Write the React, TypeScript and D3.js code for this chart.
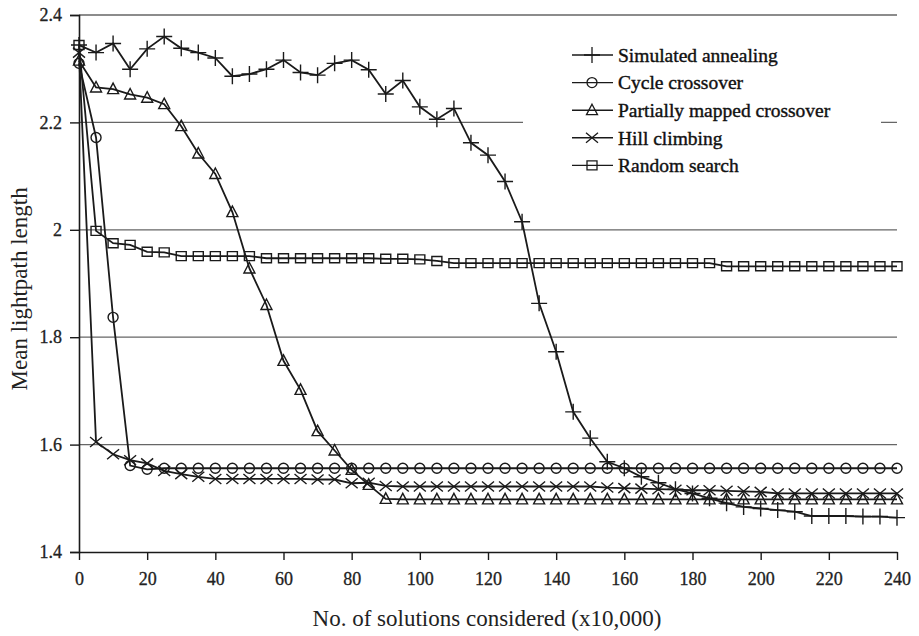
import React, { useEffect, useRef } from "react";
import * as d3 from "d3";

const steps = [
  0, 5, 10, 15, 20, 25, 30, 35, 40, 45, 50, 55, 60, 65, 70, 75, 80, 85, 90, 95,
  100, 105, 110, 115, 120, 125, 130, 135, 140, 145, 150, 155, 160, 165, 170,
  175, 180, 185, 190, 195, 200, 205, 210, 215, 220, 225, 230, 235, 240,
];

const simulatedAnnealing = [
  2.344, 2.33, 2.347, 2.299, 2.337, 2.36, 2.338, 2.33, 2.32, 2.286, 2.29, 2.299,
  2.316, 2.293, 2.288, 2.31, 2.316, 2.298, 2.253, 2.278, 2.229, 2.206, 2.226,
  2.162, 2.139, 2.09, 2.015, 1.863, 1.773, 1.661, 1.612, 1.568, 1.556, 1.54,
  1.529, 1.517, 1.509, 1.5, 1.491, 1.484, 1.481, 1.478, 1.475, 1.467, 1.467,
  1.467, 1.466, 1.466, 1.464,
];

const cycleCrossover = [
  2.31, 2.172, 1.837, 1.561, 1.554, 1.556, 1.556, 1.556, 1.556, 1.556, 1.556,
  1.556, 1.556, 1.556, 1.556, 1.556, 1.556, 1.556, 1.556, 1.556, 1.556, 1.556,
  1.556, 1.556, 1.556, 1.556, 1.556, 1.556, 1.556, 1.556, 1.556, 1.556, 1.556,
  1.556, 1.556, 1.556, 1.556, 1.556, 1.556, 1.556, 1.556, 1.556, 1.556, 1.556,
  1.556, 1.556, 1.556, 1.556, 1.556,
];

const partiallyMapped = [
  2.315, 2.265, 2.262, 2.252, 2.246, 2.234, 2.193, 2.142, 2.104, 2.033, 1.928,
  1.86, 1.756, 1.702, 1.625, 1.589, 1.553, 1.525, 1.499, 1.498, 1.498, 1.498,
  1.498, 1.498, 1.498, 1.498, 1.498, 1.498, 1.498, 1.498, 1.498, 1.498, 1.498,
  1.498, 1.498, 1.498, 1.498, 1.498, 1.498, 1.498, 1.498, 1.498, 1.498, 1.498,
  1.498, 1.498, 1.498, 1.498, 1.498,
];

const hillClimbing = [
  2.33, 1.605, 1.582, 1.571, 1.565, 1.551, 1.545, 1.54, 1.536, 1.536, 1.536,
  1.536, 1.536, 1.536, 1.535, 1.535, 1.528, 1.529, 1.523, 1.522, 1.522, 1.522,
  1.522, 1.522, 1.522, 1.522, 1.522, 1.522, 1.522, 1.522, 1.522, 1.52, 1.519,
  1.518, 1.517, 1.516, 1.515, 1.515, 1.514, 1.513, 1.512, 1.509, 1.509, 1.509,
  1.509, 1.509, 1.509, 1.509, 1.509,
];

const randomSearch = [
  2.344, 1.998, 1.975, 1.972, 1.959, 1.958, 1.951, 1.951, 1.951, 1.951, 1.951,
  1.947, 1.947, 1.947, 1.947, 1.947, 1.947, 1.947, 1.946, 1.946, 1.945, 1.942,
  1.938, 1.938, 1.938, 1.938, 1.938, 1.938, 1.938, 1.938, 1.938, 1.938, 1.938,
  1.938, 1.938, 1.938, 1.938, 1.938, 1.932, 1.932, 1.932, 1.932, 1.932, 1.932,
  1.932, 1.932, 1.932, 1.932, 1.932,
];

const seriesNames = [
  "Simulated annealing",
  "Cycle crossover",
  "Partially mapped crossover",
  "Hill climbing",
  "Random search",
];
const seriesMarkers = ["plus", "circle", "triangle", "cross", "square"];
const seriesValues = [
  simulatedAnnealing,
  cycleCrossover,
  partiallyMapped,
  hillClimbing,
  randomSearch,
];

const xTicks = [0, 20, 40, 60, 80, 100, 120, 140, 160, 180, 200, 220, 240];
const yTicks = [1.4, 1.6, 1.8, 2, 2.2, 2.4];

const markerPath = (type: string) => {
  switch (type) {
    case "plus":
      return "M-8,0H8M0,-8V8";
    case "cross":
      return "M-6,-5L6,5M-6,5L6,-5";
    case "circle":
      return "M5,0A5,5 0 1,1 -5,0A5,5 0 1,1 5,0";
    case "triangle":
      return "M0,-6L5.5,4.5H-5.5Z";
    default:
      return "M-5,-4.5H5V4.5H-5Z";
  }
};

const App = () => {
  const ref = useRef<SVGSVGElement>(null);

  useEffect(() => {
    const width = 919;
    const height = 636;
    const margin = { top: 15, right: 22, bottom: 84, left: 79 };
    const font = "'Liberation Serif', 'Times New Roman', serif";
    const ink = "#1a1a1a";

    const svg = d3.select(ref.current);
    svg.selectAll("*").remove();

    const x = d3
      .scaleLinear()
      .domain([0, 240])
      .range([margin.left, width - margin.right]);
    const y = d3
      .scaleLinear()
      .domain([1.4, 2.4])
      .range([height - margin.bottom, margin.top]);

    // gridlines
    svg
      .append("g")
      .selectAll("line")
      .data(yTicks.slice(1))
      .join("line")
      .attr("x1", x(0))
      .attr("x2", x(240))
      .attr("y1", d => y(d))
      .attr("y2", d => y(d))
      .attr("stroke", "#666")
      .attr("stroke-width", 1.3);

    // legend background hides part of the grid
    const legendX = 572;
    const legendY = 55;
    const legendGap = 27.6;
    svg
      .append("rect")
      .attr("x", 523)
      .attr("y", 35)
      .attr("width", 358)
      .attr("height", 150)
      .attr("fill", "white");

    // axes
    const yAxis = svg
      .append("g")
      .attr("transform", `translate(${margin.left},0)`)
      .call(d3.axisLeft(y).tickValues(yTicks).tickSize(9).tickFormat(d3.format("")));
    const xAxis = svg
      .append("g")
      .attr("transform", `translate(0,${height - margin.bottom})`)
      .call(d3.axisBottom(x).tickValues(xTicks).tickSize(8).tickSizeOuter(0));

    [xAxis, yAxis].forEach(g => {
      g.select(".domain").attr("stroke", ink).attr("stroke-width", 1.6);
      g.selectAll(".tick line").attr("stroke", ink).attr("stroke-width", 1.4);
      g.selectAll("text")
        .attr("font-family", font)
        .attr("font-size", 18)
        .attr("fill", "#222")
        .attr("stroke", "#222")
        .attr("stroke-width", 0.3);
    });
    yAxis.selectAll("text").attr("x", -17);
    xAxis.selectAll("text").attr("y", 20);

    // series
    const line = d3
      .line<number>()
      .x((d, i) => x(steps[i]))
      .y(d => y(d));

    seriesValues.forEach((values, s) => {
      const g = svg.append("g");
      g.append("path")
        .attr("d", line(values))
        .attr("fill", "none")
        .attr("stroke", ink)
        .attr("stroke-width", 1.8);
      g.selectAll("path.m")
        .data(values)
        .join("path")
        .attr("class", "m")
        .attr("d", markerPath(seriesMarkers[s]))
        .attr("transform", (d, i) => `translate(${x(steps[i])},${y(d)})`)
        .attr("fill", "none")
        .attr("stroke", ink)
        .attr("stroke-width", 1.4);
    });

    // legend
    const legend = svg
      .append("g")
      .selectAll("g")
      .data(seriesNames)
      .join("g")
      .attr("transform", (d, i) => `translate(${legendX},${legendY + i * legendGap})`);
    legend
      .append("line")
      .attr("x1", 0)
      .attr("x2", 41)
      .attr("stroke", ink)
      .attr("stroke-width", 1.4);
    legend
      .append("path")
      .attr("d", (d, i) => markerPath(seriesMarkers[i]))
      .attr("transform", "translate(20,0)")
      .attr("fill", "none")
      .attr("stroke", ink)
      .attr("stroke-width", 1.3);
    legend
      .append("text")
      .attr("x", 46)
      .attr("dy", "0.35em")
      .attr("font-family", font)
      .attr("font-size", 19.5)
      .attr("fill", "#111")
      .attr("stroke", "#111")
      .attr("stroke-width", 0.4)
      .text(d => d);

    // axis titles
    svg
      .append("text")
      .attr("transform", `translate(27,${y(1.89)}) rotate(-90)`)
      .attr("text-anchor", "middle")
      .attr("font-family", font)
      .attr("font-size", 23)
      .attr("fill", "#222")
      .text("Mean lightpath length");
    svg
      .append("text")
      .attr("x", 487)
      .attr("y", 626)
      .attr("text-anchor", "middle")
      .attr("font-family", font)
      .attr("font-size", 23)
      .attr("fill", "#222")
      .text("No. of solutions considered (x10,000)");
  }, []);

  return (
    <svg
      ref={ref}
      width={919}
      height={636}
      style={{ position: "absolute", left: 0, top: 0, background: "white" }}
    />
  );
};

export default App;
